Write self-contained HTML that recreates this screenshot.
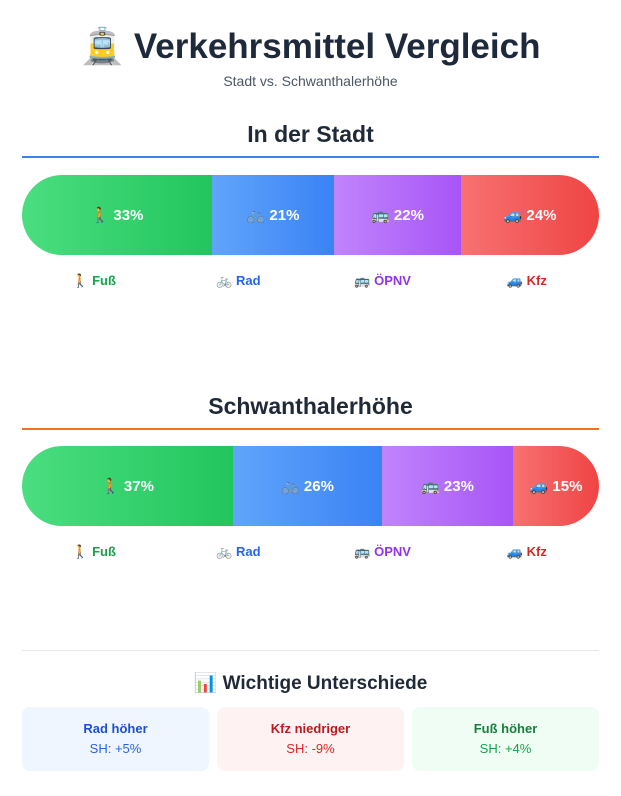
<!DOCTYPE html>
<html><head><meta charset="utf-8"><style>
*{margin:0;padding:0;box-sizing:border-box}
body{width:621px;height:796px;background:#fff;font-family:"Liberation Sans","Noto Sans CJK SC",sans-serif;position:relative;overflow:hidden;color:#1f2937}
.a{position:absolute}
.c{text-align:center;left:0;width:621px}
.bar{position:absolute;left:22px;width:577px;height:80px;border-radius:40px;overflow:hidden;display:flex}
.bar div{height:100%;display:flex;align-items:center;justify-content:center;color:#fff;font-weight:bold;font-size:15px}
.g{background:linear-gradient(90deg,#4ade80,#22c55e)}
.b{background:linear-gradient(90deg,#60a5fa,#3b82f6)}
.p{background:linear-gradient(90deg,#c084fc,#a855f7)}
.r{background:linear-gradient(90deg,#f87171,#ef4444)}
.leg{position:absolute;left:22px;width:577px;display:flex;font-size:13px;font-weight:bold}
.leg div{flex:1;text-align:center}
.card{position:absolute;top:707px;width:187px;height:64px;border-radius:8px;text-align:center;padding-top:14px}
.card b{display:block;font-size:13px}
.card span{display:block;font-size:13px;margin-top:5px}
</style></head><body>
<div class="a c" style="top:26px;font-size:35px;font-weight:bold;color:#1e293b">🚊 Verkehrsmittel Vergleich</div>
<div class="a c" style="top:73px;font-size:14px;color:#4b5563">Stadt vs. Schwanthalerhöhe</div>

<div class="a c" style="top:121px;font-size:23px;font-weight:bold">In der Stadt</div>
<div class="a" style="left:22px;top:156px;width:577px;height:2px;background:#3b82f6"></div>
<div class="bar" style="top:175px">
<div class="g" style="width:190px">🚶 33%</div><div class="b" style="width:122px">🚲 21%</div><div class="p" style="width:127px">🚌 22%</div><div class="r" style="width:138px">🚙 24%</div></div>
<div class="leg" style="top:273px"><div style="color:#16a34a">🚶 Fuß</div><div style="color:#2563eb">🚲 Rad</div><div style="color:#9333ea">🚌 ÖPNV</div><div style="color:#dc2626">🚙 Kfz</div></div>

<div class="a c" style="top:393px;font-size:23px;font-weight:bold">Schwanthalerhöhe</div>
<div class="a" style="left:22px;top:428px;width:577px;height:2px;background:#f97316"></div>
<div class="bar" style="top:446px">
<div class="g" style="width:211px">🚶 37%</div><div class="b" style="width:149px">🚲 26%</div><div class="p" style="width:131px">🚌 23%</div><div class="r" style="width:86px">🚙 15%</div></div>
<div class="leg" style="top:544px"><div style="color:#16a34a">🚶 Fuß</div><div style="color:#2563eb">🚲 Rad</div><div style="color:#9333ea">🚌 ÖPNV</div><div style="color:#dc2626">🚙 Kfz</div></div>

<div class="a" style="left:22px;top:650px;width:577px;height:1px;background:#e5e7eb"></div>
<div class="a c" style="top:671px;font-size:19px;font-weight:bold">📊 Wichtige Unterschiede</div>
<div class="card" style="left:22px;background:#eff6ff"><b style="color:#1d4ed8">Rad höher</b><span style="color:#2563eb">SH: +5%</span></div>
<div class="card" style="left:217px;background:#fef2f2"><b style="color:#b91c1c">Kfz niedriger</b><span style="color:#dc2626">SH: -9%</span></div>
<div class="card" style="left:412px;background:#f0fdf4"><b style="color:#15803d">Fuß höher</b><span style="color:#16a34a">SH: +4%</span></div>
</body></html>
